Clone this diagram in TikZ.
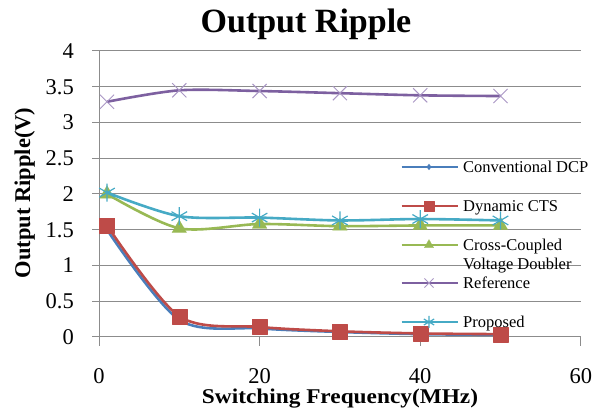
\documentclass[tikz,border=0pt]{standalone}
\usepackage{fontspec}
\setmainfont{Liberation Serif}
\usetikzlibrary{plotmarks}
\definecolor{dcpblue}{HTML}{4A7EBB}
\definecolor{ctsred}{HTML}{BE4B48}
\definecolor{ccgreen}{HTML}{98B954}
\definecolor{refpurple}{HTML}{7D60A0}
\definecolor{refmark}{HTML}{A996C4}
\definecolor{propaqua}{HTML}{46AAC5}
\definecolor{gridgray}{HTML}{8C8C8C}
\tikzset{
  gridline/.style={gridgray, line width=1pt},
  series/.style={line width=2.6pt, line join=round},
  ticklabel/.style={font=\fontsize{22.5}{24}\selectfont, inner sep=0pt},
  keytext/.style={font=\fontsize{16.5}{18}\selectfont, anchor=base west, inner sep=0pt},
  axistitle/.style={font=\fontsize{22.5}{24}\selectfont\bfseries, inner sep=0pt, anchor=base},
}
\newcommand*{\KeyEntry}[5]{% #1 = name, #2 = y, #3 = colour, #4 = mark, #5 = text
\draw[series, #3] plot[mark indices={2}, #4] coordinates {(401.7pt,#2) (429pt,#2) (458pt,#2)};
\node[keytext] (#1) at (463pt,#2-6pt) {#5};
}

\begin{document}
\begin{tikzpicture}
    \useasboundingbox (0,0) rectangle (598pt,412pt);

    \node[font=\fontsize{34}{36}\selectfont\bfseries, anchor=base, inner sep=0pt] (title) at (306pt,379pt) {Output Ripple};
    \node[axistitle, rotate=90] (ylabel) at (30pt,219pt) {Output Ripple(V)};
    \node[axistitle, font=\fontsize{21}{24}\selectfont\bfseries, xscale=1.11] (xlabel) at (340pt,8pt) {Switching Frequency(MHz)};

    \begin{scope}[shift={(99pt,75pt)}, x=8.03pt, y=71.5pt]
        % grid and axes
        \foreach \v in {0.5,1,1.5,2,2.5,3,3.5,4} {
            \draw[gridline] ([xshift=-7pt]0,\v) -- (60,\v);
        }
        \draw[gridline] ([xshift=-7pt]0,0) -- (60,0);
        \draw[gridline] ([yshift=-9pt]0,0) -- (0,4);
        \foreach \x in {20,40,60} {
            \draw[gridline] (\x,0) -- ([yshift=-9pt]\x,0);
        }
        \foreach \v [count=\i] in {0,0.5,1,1.5,2,2.5,3,3.5,4} {
            \node[ticklabel, anchor=east] (ytick\i) at ([xshift=-25pt]0,\v) {\v};
        }
        \foreach \x [count=\i] in {0,20,40,60} {
            \node[ticklabel] (xtick\i) at ([yshift=-39.5pt]\x,0) {\x};
        }

        % series
        \draw[series, dcpblue] plot[smooth, tension=0.5, mark=diamond*, mark size=4pt,
            mark options={fill=dcpblue, line width=0.1pt}]
            coordinates {(1,1.50) (10,0.24) (20,0.12) (30,0.07) (40,0.04) (50,0.03)};
        \draw[series, ctsred] plot[smooth, tension=0.5, mark=square*, mark size=7.5pt,
            mark options={fill=ctsred, line width=0.1pt}]
            coordinates {(1,1.56) (10,0.29) (20,0.14) (30,0.08) (40,0.05) (50,0.04)};
        \draw[series, ccgreen] plot[smooth, tension=0.5, mark=triangle*, mark size=8.5pt,
            mark options={fill=ccgreen, line width=0.1pt}]
            coordinates {(1,2.00) (10,1.52) (20,1.58) (30,1.55) (40,1.56) (50,1.56)};
        \draw[series, refpurple] plot[smooth, tension=0.5, mark=x, mark size=10pt,
            mark options={refmark, line width=1pt}]
            coordinates {(1,3.29) (10,3.45) (20,3.44) (30,3.41) (40,3.38) (50,3.37)};
        \draw[series, propaqua] plot[smooth, tension=0.5, mark=asterisk, mark size=9pt,
            mark options={propaqua, line width=1.2pt}]
            coordinates {(1,2.02) (10,1.69) (20,1.67) (30,1.63) (40,1.65) (50,1.63)};
    \end{scope}

    % legend
    \KeyEntry{keydcp}{245pt}{dcpblue}{mark=diamond*, mark size=3pt, mark options={fill=dcpblue, line width=0.1pt}}{Conventional DCP}
    \KeyEntry{keycts}{206pt}{ctsred}{mark=square*, mark size=5pt, mark options={fill=ctsred, line width=0.1pt}}{Dynamic CTS}
    \KeyEntry{keycc}{167pt}{ccgreen}{mark=triangle*, mark size=5.5pt, mark options={fill=ccgreen, line width=0.1pt}}{Cross-Coupled}
    \node[keytext] (keycc2) at (463pt,142pt) {Voltage Doubler};
    \KeyEntry{keyref}{129pt}{refpurple}{mark=x, mark size=6.5pt, mark options={refmark, line width=1pt}}{Reference}
    \KeyEntry{keyprop}{90pt}{propaqua}{mark=asterisk, mark size=6pt, mark options={propaqua, line width=1.2pt}}{Proposed}

\end{tikzpicture}
\end{document}
